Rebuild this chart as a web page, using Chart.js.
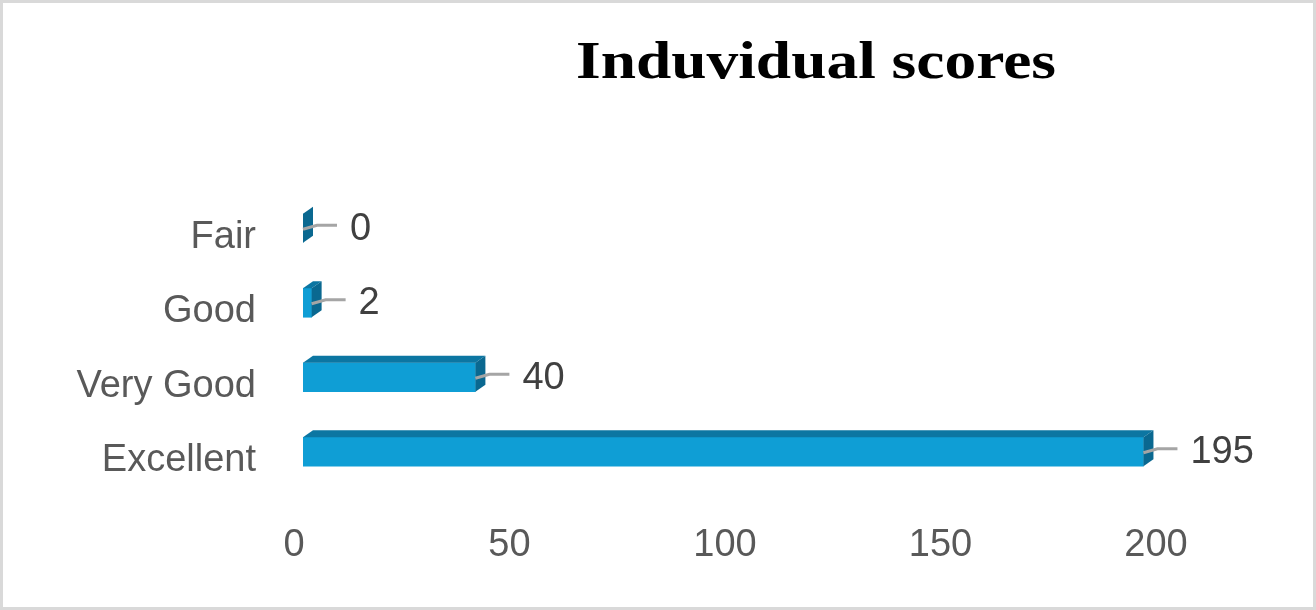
<!DOCTYPE html>
<html>
<head>
<meta charset="utf-8">
<title>Induvidual scores</title>
<script src="https://cdn.jsdelivr.net/npm/chart.js@4.4.1/dist/chart.umd.min.js"></script>
<style>
    html, body { margin: 0; padding: 0; background: #ffffff; }
    #wrap { width: 1316px; height: 610px; position: relative; }
</style>
</head>
<body>
<div id="wrap">
    <canvas id="scoresChart" width="1316" height="610"></canvas>
</div>
<script>
const chartTitle = 'Induvidual scores';
const categories = ['Excellent', 'Very Good', 'Good', 'Fair'];
const scores = [195, 40, 2, 0];
const xTicks = [0, 50, 100, 150, 200];

const frontColor = '#0f9ed5';
const topColor = '#0c76a2';
const sideColor = '#0a6890';
const depthX = 10;
const depthY = 7;

// background, frame and the (off-centre, wide) serif title
const frameAndTitle = {
    id: 'frameAndTitle',
    beforeDraw(chart) {
        const { ctx, width, height } = chart;
        ctx.save();
        ctx.fillStyle = '#ffffff';
        ctx.fillRect(0, 0, width, height);
        ctx.strokeStyle = '#d9d9d9';
        ctx.lineWidth = 3;
        ctx.strokeRect(1.5, 1.5, width - 3, height - 3);
        ctx.restore();
    },
    afterDraw(chart) {
        const { ctx } = chart;
        ctx.save();
        ctx.translate(816, 78);
        ctx.scale(1.22, 1);
        ctx.font = 'bold 52px "Liberation Serif", "Times New Roman", serif';
        ctx.fillStyle = '#000000';
        ctx.textAlign = 'center';
        ctx.textBaseline = 'alphabetic';
        ctx.fillText(chartTitle, 0, 0);
        ctx.restore();
    },
};

// top and side faces for the 3D look, plus leader lines and value labels
const bars3d = {
    id: 'bars3d',
    afterDatasetsDraw(chart) {
        const { ctx } = chart;
        const meta = chart.getDatasetMeta(0);
        ctx.save();
        meta.data.forEach((bar, i) => {
            const { x, y, base, height } = bar.getProps(['x', 'y', 'base', 'height'], true);
            const top = y - height / 2;
            const bottom = y + height / 2;

            if (x > base) {
                ctx.fillStyle = topColor;
                ctx.beginPath();
                ctx.moveTo(base, top);
                ctx.lineTo(x, top);
                ctx.lineTo(x + depthX, top - depthY);
                ctx.lineTo(base + depthX, top - depthY);
                ctx.closePath();
                ctx.fill();
            }

            ctx.fillStyle = sideColor;
            ctx.beginPath();
            ctx.moveTo(x, top);
            ctx.lineTo(x + depthX, top - depthY);
            ctx.lineTo(x + depthX, bottom - depthY);
            ctx.lineTo(x, bottom);
            ctx.closePath();
            ctx.fill();

            const lineY = y - 3;
            ctx.strokeStyle = '#a5a5a5';
            ctx.lineWidth = 3;
            ctx.beginPath();
            ctx.moveTo(x, y + 1);
            ctx.lineTo(x + depthX + 4, lineY);
            ctx.lineTo(x + depthX + 24, lineY);
            ctx.stroke();

            ctx.fillStyle = '#404040';
            ctx.font = '38px "Liberation Sans", Arial, sans-serif';
            ctx.textAlign = 'left';
            ctx.textBaseline = 'middle';
            ctx.fillText(String(scores[i]), x + depthX + 37, y + 1);
        });
        ctx.restore();
    },
};

new Chart(document.getElementById('scoresChart'), {
    type: 'bar',
    data: {
        labels: categories,
        datasets: [
            {
                label: chartTitle,
                data: scores,
                backgroundColor: frontColor,
                borderWidth: 0,
                barThickness: 29,
            },
        ],
    },
    options: {
        indexAxis: 'y',
        responsive: false,
        animation: false,
        devicePixelRatio: 1,
        layout: {
            padding: { left: 0, right: 151, top: 191, bottom: 41 },
        },
        plugins: {
            legend: { display: false },
            title: { display: false },
            tooltip: { enabled: false },
        },
        scales: {
            x: {
                min: xTicks[0],
                max: xTicks[xTicks.length - 1],
                afterBuildTicks: (axis) => {
                    axis.ticks = xTicks.map((value) => ({ value }));
                },
                afterFit: (axis) => {
                    axis.height = 80;
                },
                border: { display: false },
                grid: { display: false, drawTicks: false },
                ticks: {
                    color: '#595959',
                    padding: 34,
                    labelOffset: -9,
                    maxRotation: 0,
                    font: { family: '"Liberation Sans", Arial, sans-serif', size: 38 },
                },
            },
            y: {
                reverse: true,
                afterFit: (axis) => {
                    axis.width = 303;
                },
                border: { display: false },
                grid: { display: false, drawTicks: false },
                ticks: {
                    color: '#595959',
                    padding: 47,
                    labelOffset: 9,
                    font: { family: '"Liberation Sans", Arial, sans-serif', size: 38 },
                },
            },
        },
    },
    plugins: [frameAndTitle, bars3d],
});
</script>
</body>
</html>
